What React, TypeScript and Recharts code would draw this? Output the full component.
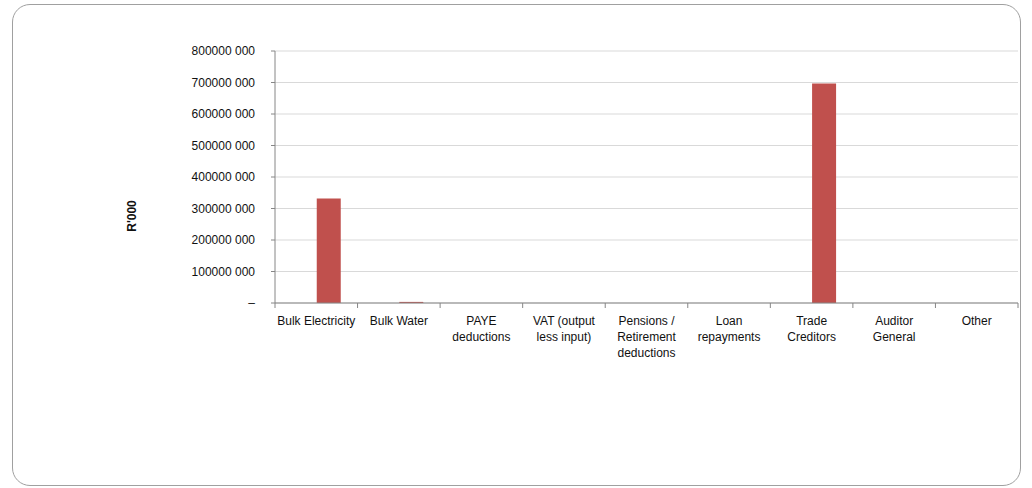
import { BarChart, Bar, XAxis, YAxis, CartesianGrid } from 'recharts';

const categories = [
  'Bulk Electricity',
  'Bulk Water',
  'PAYE deductions',
  'VAT (output less input)',
  'Pensions / Retirement deductions',
  'Loan repayments',
  'Trade Creditors',
  'Auditor General',
  'Other',
];

// first series is empty in the source, only the second one shows
const seriesA = [0, 0, 0, 0, 0, 0, 0, 0, 0];
const seriesB = [332000000, 3500000, 0, 0, 0, 0, 697000000, 0, 0];

const yTicks = [0, 100000000, 200000000, 300000000, 400000000, 500000000, 600000000, 700000000, 800000000];

const data = categories.map((name, i) => ({ name, a: seriesA[i], b: seriesB[i] }));

const W = 1032;
const H = 488;
const AXIS_W = 275;
const MARGIN = { top: 51, right: 14, bottom: 125, left: 0 };
const BAND = (W - AXIS_W - MARGIN.right) / categories.length;
const FONT = '"Liberation Sans", Arial, sans-serif';
const AXIS_COLOR = '#868686';

const ctx = typeof document !== 'undefined' ? document.createElement('canvas').getContext('2d') : null;

function wrapLabel(text: string, maxW: number): string[] {
  if (ctx) ctx.font = `12px ${FONT}`;
  const measure = (s: string) => (ctx ? ctx.measureText(s).width : s.length * 6.2);
  const lines: string[] = [];
  let cur = '';
  for (const w of text.split(' ')) {
    const test = cur ? cur + ' ' + w : w;
    if (cur && measure(test) > maxW) {
      lines.push(cur);
      cur = w;
    } else cur = test;
  }
  if (cur) lines.push(cur);
  return lines;
}

const fmtY = (v: number) =>
  v === 0 ? '–' : `${Math.floor(v / 1000)} ${String(v % 1000).padStart(3, '0')}`;

function CategoryTick({ x, y, payload, index }: any) {
  const lines = wrapLabel(String(payload.value), 80);
  const half = BAND / 2;
  return (
    <g>
      <line x1={x - half} x2={x - half} y1={y} y2={y + 5} stroke={AXIS_COLOR} />
      {index === categories.length - 1 && (
        <line x1={x + half} x2={x + half} y1={y} y2={y + 5} stroke={AXIS_COLOR} />
      )}
      <text x={x} y={y + 22} textAnchor="middle" fontSize={12} fontFamily={FONT} fill="#111">
        {lines.map((l, i) => (
          <tspan key={i} x={x} dy={i === 0 ? 0 : 16}>
            {l}
          </tspan>
        ))}
      </text>
    </g>
  );
}

function YLabel() {
  return (
    <text
      x={132}
      y={216}
      transform="rotate(-90 132 216)"
      textAnchor="middle"
      dominantBaseline="central"
      fontSize={12}
      fontWeight="bold"
      fontFamily={FONT}
      fill="#111"
    >
      R'000
    </text>
  );
}

export default function App() {
  return (
    <div style={{ position: 'fixed', left: 0, top: 0, width: W, height: H, background: '#fff' }}>
      <div
        style={{
          position: 'absolute',
          left: 12,
          top: 4,
          width: 1009,
          height: 482,
          border: '1px solid #a0a0a0',
          borderRadius: 18,
          boxSizing: 'border-box',
        }}
      />
      <div style={{ position: 'absolute', left: 0, top: 0 }}>
        <BarChart
          width={W}
          height={H}
          data={data}
          margin={MARGIN}
          barCategoryGap="21.5%"
          barGap={0}
        >
          <CartesianGrid vertical={false} stroke="#d9d9d9" />
          <XAxis
            dataKey="name"
            interval={0}
            height={60}
            tickSize={0}
            tickMargin={0}
            tickLine={false}
            axisLine={{ stroke: AXIS_COLOR }}
            tick={<CategoryTick />}
          />
          <YAxis
            width={AXIS_W}
            domain={[0, 800000000]}
            ticks={yTicks}
            interval={0}
            tickSize={4}
            tickMargin={16}
            tickFormatter={fmtY}
            tickLine={{ stroke: AXIS_COLOR }}
            axisLine={{ stroke: AXIS_COLOR }}
            tick={{ fontSize: 12, fontFamily: FONT, fill: '#111' }}
            label={<YLabel />}
          />
          <Bar dataKey="a" fill="#4F81BD" isAnimationActive={false} />
          <Bar dataKey="b" fill="#C0504D" isAnimationActive={false} />
        </BarChart>
      </div>
    </div>
  );
}
